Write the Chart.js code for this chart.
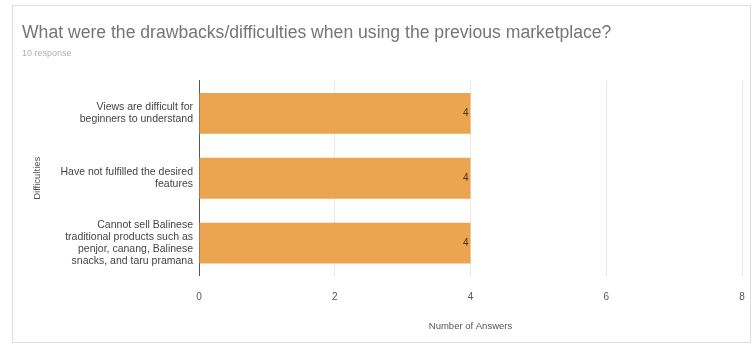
<!DOCTYPE html>
<html><head><meta charset="utf-8">
<script src="https://cdn.jsdelivr.net/npm/chart.js@4/dist/chart.umd.min.js"></script>
<style>html,body{margin:0;padding:0;background:#fff}#wrap{width:752px;height:346px;position:relative}</style>
</head><body><div id="wrap"><canvas id="c" width="752" height="346"></canvas></div>
<script>
const titleText = "What were the drawbacks/difficulties when using the previous marketplace?";
const subtitleText = "10 response";
const categories = [
  ["Views are difficult for", "beginners to understand"],
  ["Have not fulfilled the desired", "features"],
  ["Cannot sell Balinese", "traditional products such as", "penjor, canang, Balinese", "snacks, and taru pramana"]
];
const answers = [4, 4, 4];
const xTicks = [0, 2, 4, 6, 8];
const xTitle = "Number of Answers";
const yTitle = "Difficulties";

const FONT = '"Liberation Sans", Arial, sans-serif';
const framePlugin = {
  id: 'frame',
  beforeDraw(chart) {
    const ctx = chart.ctx;
    ctx.save();
    ctx.fillStyle = '#fff';
    ctx.fillRect(0, 0, chart.width, chart.height);
    ctx.strokeStyle = '#dedede';
    ctx.lineWidth = 1;
    ctx.strokeRect(12.5, 5.5, 738, 337);
    ctx.restore();
  }
};
const valueLabels = {
  id: 'valueLabels',
  afterDatasetsDraw(chart) {
    const ctx = chart.ctx;
    const meta = chart.getDatasetMeta(0);
    ctx.save();
    ctx.font = '10px ' + FONT;
    ctx.fillStyle = '#4a3210';
    ctx.textAlign = 'right';
    ctx.textBaseline = 'middle';
    meta.data.forEach((bar, i) => {
      ctx.fillText(String(chart.data.datasets[0].data[i]), bar.x - 2, bar.y);
    });
    ctx.restore();
  }
};

new Chart(document.getElementById('c'), {
  type: 'bar',
  data: {
    labels: categories,
    datasets: [{ data: answers, backgroundColor: '#eba44f', borderWidth: 0, categoryPercentage: 1, barPercentage: 0.63 }]
  },
  plugins: [framePlugin, valueLabels],
  options: {
    indexAxis: 'y',
    responsive: false,
    animation: false,
    layout: { padding: { left: 22, right: 10, top: 0, bottom: 14 } },
    plugins: {
      legend: { display: false },
      tooltip: { enabled: false },
      title: { display: true, text: titleText, align: 'start', color: '#757575',
        font: { family: FONT, size: 17.6, weight: 'normal' }, padding: { top: 23, bottom: 4 } },
      subtitle: { display: true, text: subtitleText, align: 'start', color: '#b0b0b0',
        font: { family: FONT, size: 9 }, padding: { top: 0, bottom: 22 } }
    },
    scales: {
      x: {
        min: 0, max: 8,
        afterBuildTicks(s) { s.ticks = xTicks.map(v => ({ value: v })); },
        grid: { color: '#e8e8e8', drawTicks: true, tickLength: 13, tickColor: 'rgba(0,0,0,0)' },
        border: { display: false },
        ticks: { color: '#555', padding: 3, font: { family: FONT, size: 10 } },
        title: { display: true, text: xTitle, color: '#555', padding: { top: 14, bottom: 0 },
          font: { family: FONT, size: 9.5 } }
      },
      y: {
        afterFit(s) { s.width = 177; },
        grid: { display: false, drawTicks: false },
        border: { display: true, color: '#555', width: 1 },
        ticks: { color: '#444', padding: 6, font: { family: FONT, size: 10.5, lineHeight: 1.15 } },
        title: { display: true, text: yTitle, color: '#555', padding: { top: 10, bottom: 0 },
          font: { family: FONT, size: 9.5 } }
      }
    }
  }
});
</script></body></html>
